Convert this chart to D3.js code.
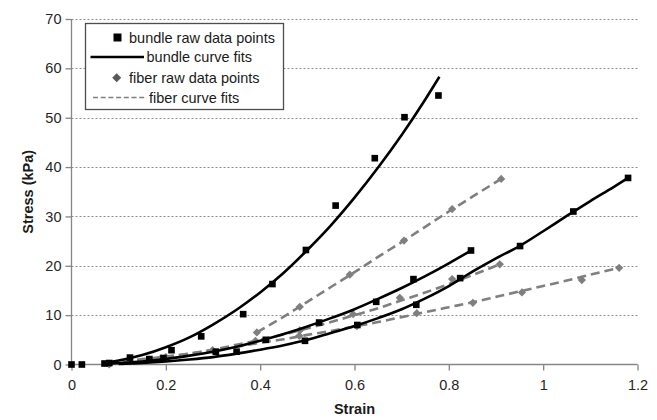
<!DOCTYPE html>
<html>
<head>
<meta charset="utf-8">
<script src="https://cdn.jsdelivr.net/npm/d3@7"></script>
<style>
  html, body { margin: 0; padding: 0; background: #fff; }
  svg { display: block; font-family: "Liberation Sans", Arial, sans-serif; }
</style>
</head>
<body>
<svg id="chart" width="657" height="420"></svg>
<script>
// ---------- data ----------
const xTicks = [0, 0.2, 0.4, 0.6, 0.8, 1, 1.2];
const xTickLabels = ["0", "0.2", "0.4", "0.6", "0.8", "1", "1.2"];
const yTicks = [0, 10, 20, 30, 40, 50, 60, 70];

// bundle raw data points (three specimens)
const bundleA_strain = [0, 0.022, 0.07, 0.124, 0.212, 0.275, 0.364, 0.426, 0.497, 0.56, 0.643, 0.706, 0.778];
const bundleA_stress = [0, 0, 0.2, 1.4, 2.9, 5.7, 10.2, 16.3, 23.2, 32.2, 41.8, 50.1, 54.5];
const bundleB_strain = [0.08, 0.165, 0.306, 0.412, 0.525, 0.646, 0.725, 0.847];
const bundleB_stress = [0.3, 1.1, 2.6, 5.0, 8.5, 12.7, 17.3, 23.1];
const bundleC_strain = [0.195, 0.35, 0.495, 0.606, 0.731, 0.824, 0.951, 1.064, 1.18];
const bundleC_stress = [1.3, 2.6, 4.8, 8.0, 12.1, 17.5, 24.0, 31.0, 37.8];

// bundle curve fits
const bundleFitA_strain = [0.07, 0.1, 0.15, 0.2, 0.25, 0.3, 0.35, 0.4, 0.45, 0.5, 0.55, 0.6, 0.65, 0.7, 0.75, 0.78];
const bundleFitA_stress = [0.4, 0.8, 1.9, 3.5, 5.5, 8.1, 11.1, 14.6, 18.6, 23.2, 28.2, 33.8, 39.9, 46.5, 53.7, 58.3];
const bundleFitB_strain = [0.08, 0.1, 0.15, 0.2, 0.25, 0.3, 0.35, 0.4, 0.45, 0.5, 0.55, 0.6, 0.65, 0.7, 0.75, 0.8, 0.847];
const bundleFitB_stress = [0.2, 0.3, 0.6, 1.1, 1.8, 2.6, 3.6, 4.8, 6.2, 7.7, 9.4, 11.2, 13.3, 15.5, 17.9, 20.5, 23.1];
const bundleFitC_strain = [0.1, 0.15, 0.2, 0.25, 0.3, 0.35, 0.4, 0.45, 0.5, 0.55, 0.6, 0.65, 0.7, 0.75, 0.8, 0.85, 0.9, 0.95, 1.0, 1.05, 1.1, 1.15, 1.18];
const bundleFitC_stress = [0.1, 0.3, 0.6, 1.0, 1.5, 2.2, 3.0, 3.9, 5.0, 6.4, 7.8, 9.4, 11.2, 13.4, 15.9, 18.8, 21.5, 24.0, 27.0, 30.1, 33.1, 36.0, 37.8];

// fiber raw data points
const fiberA_strain = [0.393, 0.484, 0.59, 0.705, 0.807, 0.911];
const fiberA_stress = [6.5, 11.7, 18.2, 25.1, 31.5, 37.6];
const fiberB_strain = [0.08, 0.19, 0.299, 0.39, 0.484, 0.597, 0.696, 0.807, 0.908];
const fiberB_stress = [0, 1.3, 2.9, 4.8, 6.9, 10.2, 13.5, 17.3, 20.3];
const fiberC_strain = [0.2, 0.483, 0.605, 0.732, 0.851, 0.955, 1.082, 1.161];
const fiberC_stress = [1.5, 5.8, 7.8, 10.4, 12.5, 14.6, 17.1, 19.6];

// fiber curve fits
const fiberFitA_strain = [0.393, 0.45, 0.5, 0.55, 0.6, 0.65, 0.7, 0.75, 0.8, 0.85, 0.911];
const fiberFitA_stress = [6.5, 9.7, 12.7, 15.7, 18.7, 21.8, 24.8, 27.9, 31.0, 34.0, 37.6];
const fiberFitB_strain = [0.08, 0.1, 0.15, 0.2, 0.25, 0.3, 0.35, 0.4, 0.45, 0.5, 0.55, 0.6, 0.65, 0.7, 0.75, 0.8, 0.85, 0.908];
const fiberFitB_stress = [0.3, 0.5, 0.9, 1.5, 2.2, 3.0, 4.0, 5.0, 6.1, 7.3, 8.6, 10.0, 11.4, 13.0, 14.6, 16.3, 18.1, 20.3];
const fiberFitC_strain = [0.08, 0.1, 0.15, 0.2, 0.25, 0.3, 0.35, 0.4, 0.45, 0.5, 0.55, 0.6, 0.65, 0.7, 0.75, 0.8, 0.85, 0.9, 0.95, 1.0, 1.05, 1.1, 1.161];
const fiberFitC_stress = [0.4, 0.6, 1.1, 1.6, 2.2, 2.9, 3.6, 4.4, 5.1, 6.0, 6.8, 7.7, 8.6, 9.6, 10.6, 11.6, 12.6, 13.7, 14.8, 15.9, 17.0, 18.2, 19.6];

const legendLabels = ["bundle raw data points", "bundle curve fits", "fiber raw data points", "fiber curve fits"];
const xTitle = "Strain";
const yTitle = "Stress (kPa)";

// ---------- drawing ----------
(function draw() {
  const zip = (xs, ys) => xs.map((v, i) => [v, ys[i]]);

  const svg = d3.select("#chart");
  const W = 657, H = 420;
  const pLeft = 71.5, pRight = 637.5, pTop = 19, pBottom = 364.5;

  const x = d3.scaleLinear().domain([0, 1.2]).range([pLeft, pRight]);
  const y = d3.scaleLinear().domain([0, 70]).range([pBottom, pTop]);

  svg.append("rect").attr("width", W).attr("height", H).attr("fill", "#fff");

  // gridlines
  svg.append("g").selectAll("line").data(yTicks.filter(d => d > 0)).join("line")
    .attr("x1", pLeft).attr("x2", pRight)
    .attr("y1", d => Math.round(y(d)) + 0.5).attr("y2", d => Math.round(y(d)) + 0.5)
    .attr("stroke", "#8c8c8c").attr("stroke-width", 1).attr("stroke-dasharray", "2,2");

  // axes
  const yAxis = d3.axisLeft(y).tickValues(yTicks).tickSize(6).tickPadding(4).tickFormat(d3.format("d"));
  const gy = svg.append("g").attr("transform", `translate(${pLeft},0)`).call(yAxis);
  const xAxis = d3.axisBottom(x).tickValues(xTicks).tickSize(6).tickPadding(9)
    .tickFormat((d, i) => xTickLabels[i]);
  const gx = svg.append("g").attr("transform", `translate(0,${pBottom})`).call(xAxis);

  [gx, gy].forEach(g => {
    g.select(".domain").attr("stroke", "#868686").attr("stroke-width", 1.3);
    g.selectAll(".tick line").attr("stroke", "#868686").attr("stroke-width", 1.3);
    g.selectAll(".tick text").attr("fill", "#262626").attr("font-size", "14.5px")
      .attr("font-family", "'Liberation Sans', Arial, sans-serif");
  });
  gy.select(".domain").attr("d", `M0,${pBottom}V${pTop}`);
  gx.select(".domain").attr("d", `M${pLeft},0H${pRight}`);

  // axis titles
  svg.append("text").attr("x", x(0.6)).attr("y", 414).attr("text-anchor", "middle")
    .attr("font-weight", "bold").attr("font-size", "14.5px").attr("fill", "#1a1a1a").text(xTitle);
  svg.append("text").attr("transform", `translate(33,${(pTop + pBottom) / 2}) rotate(-90)`)
    .attr("text-anchor", "middle").attr("font-weight", "bold").attr("font-size", "14.5px")
    .attr("fill", "#1a1a1a").text(yTitle);

  const line = d3.line().x(d => x(d[0])).y(d => y(d[1])).curve(d3.curveMonotoneX);

  const fiberColor = "#7f7f7f";
  const dash = "9,5";

  // fiber fits (dashed)
  [[fiberFitA_strain, fiberFitA_stress], [fiberFitB_strain, fiberFitB_stress], [fiberFitC_strain, fiberFitC_stress]]
    .forEach(([xs, ys]) => {
      svg.append("path").datum(zip(xs, ys)).attr("d", line).attr("fill", "none")
        .attr("stroke", fiberColor).attr("stroke-width", 2.6).attr("stroke-dasharray", dash);
    });

  // fiber raw points (diamonds)
  const diamond = d3.symbol(d3.symbolSquare, 34);
  [[fiberA_strain, fiberA_stress], [fiberB_strain, fiberB_stress], [fiberC_strain, fiberC_stress]]
    .forEach(([xs, ys]) => {
      svg.append("g").selectAll("path").data(zip(xs, ys)).join("path")
        .attr("d", diamond)
        .attr("transform", d => `translate(${x(d[0])},${y(d[1])}) rotate(45)`)
        .attr("fill", fiberColor);
    });

  // bundle fits (solid)
  [[bundleFitA_strain, bundleFitA_stress], [bundleFitB_strain, bundleFitB_stress], [bundleFitC_strain, bundleFitC_stress]]
    .forEach(([xs, ys]) => {
      svg.append("path").datum(zip(xs, ys)).attr("d", line).attr("fill", "none")
        .attr("stroke", "#000").attr("stroke-width", 2.6);
    });

  // bundle raw points (squares)
  const square = d3.symbol(d3.symbolSquare, 44);
  [[bundleA_strain, bundleA_stress], [bundleB_strain, bundleB_stress], [bundleC_strain, bundleC_stress]]
    .forEach(([xs, ys]) => {
      svg.append("g").selectAll("path").data(zip(xs, ys)).join("path")
        .attr("d", square)
        .attr("transform", d => `translate(${x(d[0])},${y(d[1])})`)
        .attr("fill", "#000");
    });

  // legend
  const lg = svg.append("g");
  lg.append("rect").attr("x", 85.5).attr("y", 23.5).attr("width", 198).attr("height", 86)
    .attr("fill", "#fff").attr("stroke", "#4d4d4d").attr("stroke-width", 1.3);
  lg.append("path").attr("d", d3.symbol(d3.symbolSquare, 64)).attr("transform", "translate(117.5,37.5)").attr("fill", "#000");
  lg.append("line").attr("x1", 90.5).attr("x2", 144).attr("y1", 57).attr("y2", 57)
    .attr("stroke", "#000").attr("stroke-width", 2.6);
  lg.append("path").attr("d", d3.symbol(d3.symbolSquare, 40)).attr("transform", "translate(116.7,77.7) rotate(45)").attr("fill", "#595959");
  lg.append("line").attr("x1", 93).attr("x2", 147).attr("y1", 97.5).attr("y2", 97.5)
    .attr("stroke", fiberColor).attr("stroke-width", 1.6).attr("stroke-dasharray", "5,2.7");
  const legendTextX = [129, 146.5, 129, 149];
  const legendTextY = [42.5, 62, 82.5, 102.5];
  legendLabels.forEach((t, i) => {
    lg.append("text").attr("x", legendTextX[i]).attr("y", legendTextY[i])
      .attr("font-size", "14.5px").attr("fill", "#1a1a1a").text(t);
  });
})();
</script>
</body>
</html>
